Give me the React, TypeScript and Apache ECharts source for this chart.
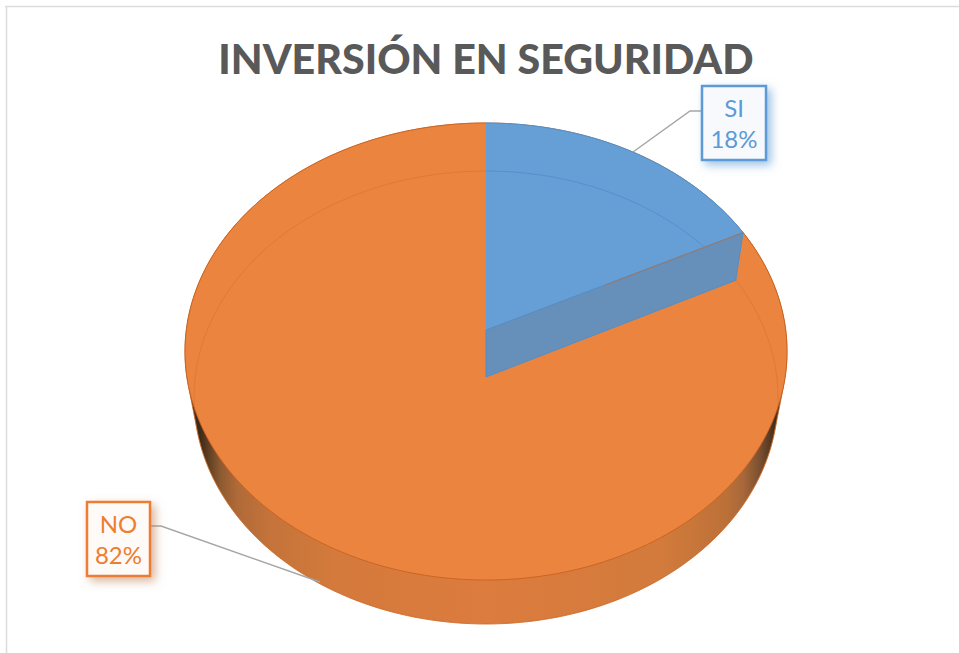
import React, { useEffect, useRef } from "react";
import * as echarts from "echarts";

const titleText = "INVERSIÓN EN SEGURIDAD";
const categories = ["SI", "NO"];
const shares = [17.6, 82.4];

const W = 959;
const H = 653;
const FONT = "Lato";

type Plane = { cx: number; cy: number; a: number; b: number; k: number };
const topPlane: Plane = { cx: 486, cy: 330, a: 299.7, b: 226.5, k: 0.0941 };
const basePlane: Plane = { cx: 486, cy: 377, a: 290.8, b: 224.6, k: 0.0905 };

const project = (p: Plane, t: number): number[] => {
  const u = Math.sin(t);
  const v = Math.cos(t);
  const d = 1 + p.k * v;
  return [p.cx + (p.a * u) / d, p.cy - (p.b * v) / d];
};
const arc = (p: Plane, t0: number, t1: number): number[][] => {
  const n = Math.max(8, Math.ceil(Math.abs(t1 - t0) * 40));
  const out: number[][] = [];
  for (let i = 0; i <= n; i++) out.push(project(p, t0 + ((t1 - t0) * i) / n));
  return out;
};

// Outline of the whole solid: convex hull of the top and base ellipses.
const convexHull = (pts: number[][]): number[][] => {
  const s = [...pts].sort((a, b) => a[0] - b[0] || a[1] - b[1]);
  const cross = (o: number[], a: number[], b: number[]) =>
    (a[0] - o[0]) * (b[1] - o[1]) - (a[1] - o[1]) * (b[0] - o[0]);
  const lower: number[][] = [];
  for (const p of s) {
    while (lower.length >= 2 && cross(lower[lower.length - 2], lower[lower.length - 1], p) <= 0) lower.pop();
    lower.push(p);
  }
  const upper: number[][] = [];
  for (let i = s.length - 1; i >= 0; i--) {
    const p = s[i];
    while (upper.length >= 2 && cross(upper[upper.length - 2], upper[upper.length - 1], p) <= 0) upper.pop();
    upper.push(p);
  }
  return lower.slice(0, -1).concat(upper.slice(0, -1));
};

const styles = [
  {
    face: "#659fd6",
    edge: "#4f8fca",
    wall: "#668fb9",
    faint: "rgba(70,130,195,0.5)",
    text: "#5b9bd5",
    box: "#f7f9fd",
    line: "#5b9bd5",
    shadow: "rgba(91,155,213,0.6)",
    rect: [702, 86, 64, 74],
    leader: [[702, 111], [690, 111], [633, 152]],
  },
  {
    face: "#ea843f",
    edge: "rgba(200,96,31,0.85)",
    wall: "#dd7c3e",
    faint: "rgba(200,95,25,0.3)",
    text: "#ed7d31",
    box: "#fdfaf8",
    line: "#ed7d31",
    shadow: "rgba(190,120,80,0.55)",
    rect: [87, 502, 63, 74],
    leader: [[150, 526], [161, 526], [320, 582]],
  },
];

const total = shares.reduce((s, v) => s + v, 0);

const renderSlice = (params: any, api: any) => {
  const i = params.dataIndex;
  const before = shares.slice(0, i).reduce((s, v) => s + v, 0);
  const t0 = (before / total) * Math.PI * 2;
  const t1 = t0 + (api.value(0) / total) * Math.PI * 2;
  const s = styles[i];
  const z = i === 0 ? 20 : 5;
  const topArc = arc(topPlane, t0, t1);
  const baseArc = arc(basePlane, t0, t1);
  const children: any[] = [];

  if (i === 1) {
    const full = Math.PI * 2;
    children.push({
      type: "polygon",
      z2: 1,
      silent: true,
      shape: { points: convexHull([...arc(topPlane, 0, full), ...arc(basePlane, 0, full)]) },
      style: {
        fill: new echarts.graphic.LinearGradient(0, 0, 1, 0, [
          { offset: 0, color: "#2e2016" },
          { offset: 0.025, color: "#3f2a18" },
          { offset: 0.058, color: "#8b5a30" },
          { offset: 0.087, color: "#b06a38" },
          { offset: 0.14, color: "#c4733a" },
          { offset: 0.25, color: "#d47a3c" },
          { offset: 0.5, color: "#dc7c3e" },
          { offset: 0.789, color: "#d27b3c" },
          { offset: 0.844, color: "#c9763a" },
          { offset: 0.9, color: "#bb7038" },
          { offset: 0.927, color: "#a8683a" },
          { offset: 0.955, color: "#7a5030" },
          { offset: 0.983, color: "#3f2a18" },
          { offset: 1, color: "#2e2016" },
        ]),
        stroke: "#d2702e",
        lineWidth: 0.8,
      },
    });
  }

  children.push({
    type: "polygon",
    z2: z,
    silent: true,
    shape: { points: [[topPlane.cx, topPlane.cy], ...topArc] },
    style: { fill: s.face, stroke: "none" },
  });
  children.push({
    type: "polyline",
    z2: z + 1,
    silent: true,
    shape: { points: topArc },
    style: { fill: "none", stroke: s.edge, lineWidth: 1 },
  });
  children.push({
    type: "polyline",
    z2: z + 1,
    silent: true,
    shape: { points: baseArc },
    style: { fill: "none", stroke: s.faint, lineWidth: 1 },
  });

  if (i === 0) {
    const tip = project(topPlane, t1);
    const foot = project(basePlane, t1);
    const apexT = [topPlane.cx, topPlane.cy];
    const apexB = [basePlane.cx, basePlane.cy];
    children.push({
      type: "polygon",
      z2: z + 2,
      silent: true,
      shape: { points: [apexT, tip, foot, apexB] },
      style: { fill: s.wall, stroke: s.edge, lineWidth: 1 },
    });
    children.push({
      type: "line",
      z2: z + 3,
      silent: true,
      shape: { x1: apexT[0] + 120, y1: apexT[1] - 45, x2: tip[0], y2: tip[1] },
      style: { stroke: "rgba(190,110,60,0.7)", lineWidth: 1 },
    });
  }

  const [rx, ry, rw, rh] = s.rect;
  const pct = Math.round((api.value(0) / total) * 100);
  children.push({
    type: "polyline",
    z2: 40,
    silent: true,
    shape: { points: s.leader },
    style: { fill: "none", stroke: "#a6a6a6", lineWidth: 1.5 },
  });
  children.push({
    type: "rect",
    z2: 41,
    silent: true,
    shape: { x: rx, y: ry, width: rw, height: rh },
    style: {
      fill: s.box,
      stroke: s.line,
      lineWidth: 2.5,
      shadowBlur: 10,
      shadowOffsetX: 4,
      shadowOffsetY: 4,
      shadowColor: s.shadow,
    },
  });
  children.push({
    type: "text",
    z2: 42,
    silent: true,
    style: {
      x: rx + rw / 2,
      y: ry + rh / 2,
      text: `${categories[i]}\n${pct}%`,
      fill: s.text,
      font: `400 24px ${FONT}`,
      lineHeight: 31,
      align: "center",
      verticalAlign: "middle",
    },
  });

  return { type: "group", children };
};

export default function App() {
  const ref = useRef<HTMLDivElement>(null);
  useEffect(() => {
    document.body.style.margin = "0";
    const chart = echarts.init(ref.current!, null, { renderer: "svg", width: W, height: H });
    chart.setOption({
      animation: false,
      backgroundColor: "#ffffff",
      title: {
        text: titleText,
        left: 481,
        top: 32,
        textAlign: "center",
        textStyle: { fontFamily: FONT, fontSize: 41.2, fontWeight: 900, color: "#595959" },
      },
      graphic: [
        { type: "line", silent: true, shape: { x1: 5, y1: 6.5, x2: 959, y2: 6.5 }, style: { stroke: "#dcdcdc", lineWidth: 1.5 } },
        { type: "line", silent: true, shape: { x1: 6.5, y1: 6, x2: 6.5, y2: 653 }, style: { stroke: "#dcdcdc", lineWidth: 1.5 } },
      ],
      series: [
        {
          type: "custom",
          coordinateSystem: "none",
          clip: false,
          silent: true,
          renderItem: renderSlice,
          data: shares,
        },
      ],
    });
    return () => chart.dispose();
  }, []);
  return <div ref={ref} style={{ position: "fixed", left: 0, top: 0, width: W, height: H }} />;
}
